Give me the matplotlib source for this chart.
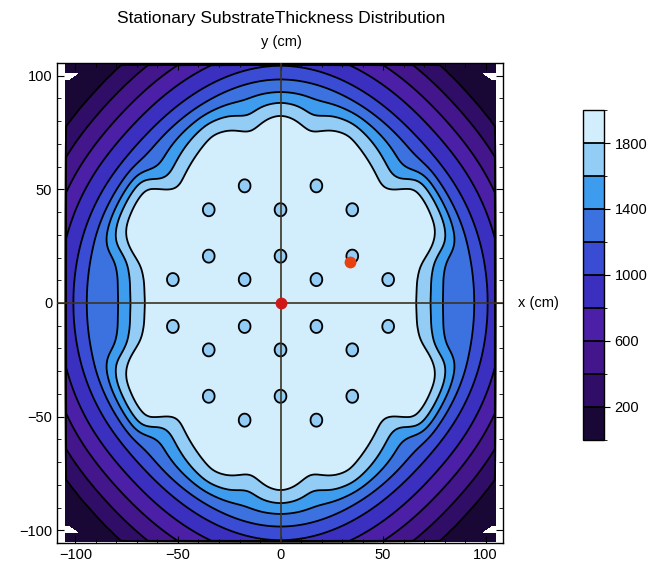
import numpy as np
import matplotlib
matplotlib.use("Agg")
import matplotlib.pyplot as plt
from matplotlib.colors import ListedColormap, BoundaryNorm

plt.rcParams['font.family'] = ['Liberation Sans', 'DejaVu Sans']

# contour levels and band colours, bottom to top
levels = [0, 200, 400, 600, 800, 1000, 1200, 1400, 1600, 1800, 2000]
band_colors = ['#190835', '#300d66', '#43168c', '#4b1fa6', '#3a2fbf',
               '#3a4bd4', '#3c72e0', '#3e9cee', '#93ccf4', '#d2edfc']
cbar_ticks = [200, 600, 1000, 1400, 1800]

# thickness vs radius (cm), read along the diagonal
prof_r = [0, 62, 67, 73, 80, 86, 92, 98, 105.5, 113, 121, 129, 143, 165]
prof_t = [2000, 2000, 1950, 1800, 1600, 1400, 1200, 1000, 800, 600, 400, 200, 60, 0]

# radius of the 1800 contour vs polar angle (first quadrant, mirrored to the others)
edge_ang = [0, 8, 14, 19, 24, 32, 38, 42, 46, 52, 60, 66, 72, 79, 85, 90]
edge_rad = [66, 67, 70, 79, 83, 84, 83, 73, 71, 74, 78, 81, 80, 76, 81, 83]

# outward shift of the outer contours vs polar angle (cm)
outer_ang = [0, 15, 30, 45, 60, 75, 90]
outer_shift = [3, 3, 2, 0, 2, 5, 7]

# holes in the substrate holder (cm)
hole_x = [-17.5, 17.5, -35, 0, 35, -35, 0, 35, -52.5, -17.5, 17.5, 52.5,
          -52.5, -17.5, 17.5, 52.5, -35, 0, 35, -35, 0, 35, -17.5, 17.5]
hole_y = [51.5, 51.5, 41, 41, 41, 20.6, 20.6, 20.6, 10.3, 10.3, 10.3, 10.3,
          -10.3, -10.3, -10.3, -10.3, -20.6, -20.6, -20.6, -41, -41, -41, -51.5, -51.5]
hole_depth = 300
hole_size = 3.0

# marked points: centre and source
mark_x = [0, 34]
mark_y = [0, 18]
mark_colors = ['#d01818', '#e8400f']


def circ_smooth(vals, sigma):
    n = int(3 * sigma)
    k = np.exp(-0.5 * (np.arange(-n, n + 1) / sigma) ** 2)
    k /= k.sum()
    return np.convolve(np.r_[vals[-n:], vals, vals[:n]], k, mode='valid')


# grid
x = np.linspace(-105, 105, 421)
y = np.linspace(-105, 105, 421)
X, Y = np.meshgrid(x, y)
R = np.hypot(X, Y)

# angular shape of the plateau edge and of the outer contours
circ = np.arange(0, 360, 0.5)
fold = np.abs((circ + 90) % 180 - 90)
d = circ_smooth(np.interp(fold, edge_ang, edge_rad) - 73, 4.0)
o = circ_smooth(np.interp(fold, outer_ang, outer_shift), 14.0)
theta = np.degrees(np.arctan2(Y, X)) % 360
delta = np.interp(theta, circ, d, period=360)
outer = np.interp(theta, circ, o, period=360)

# inner waviness fades into the smoother outer shape
t = np.clip((R - 80) / 17, 0, 1)
w = 0.5 * (1 + np.cos(np.pi * t))
T = np.interp(R - delta * w - outer * (1 - w), prof_r, prof_t)
T = np.minimum(T, 1990)
for hx, hy in zip(hole_x, hole_y):
    T -= hole_depth * np.exp(-((X - hx) ** 2 + (Y - hy) ** 2) / (2 * hole_size ** 2))

# zero border like the original export
T[0, :] = 0
T[-1, :] = 0
T[:, 0] = 0
T[:, -1] = 0

# white corner notches
ax_abs = np.abs(X)
ay_abs = np.abs(Y)
notch = (ay_abs > 98) & (ay_abs < 101.5) & (ax_abs > 97.5 + (101.5 - ay_abs) * 1.5)
T = np.ma.masked_where(notch, T)

cmap = ListedColormap(band_colors)
norm = BoundaryNorm(levels, cmap.N)

fig = plt.figure(figsize=(6.51, 5.67), dpi=100)
ax = fig.add_axes([57 / 651, 24 / 567, 446 / 651, 480 / 567])
cf = ax.contourf(X, Y, T, levels=levels, cmap=cmap, norm=norm)
cs = ax.contour(X, Y, T, levels=levels[1:-1], colors='black', linewidths=1.3)

ax.axhline(0, color='#3b3320', lw=1.2, zorder=5)
ax.axvline(0, color='#3b3320', lw=1.2, zorder=5)
for mx, my, mc in zip(mark_x, mark_y, mark_colors):
    ax.plot(mx, my, 'o', color=mc, ms=8.5, mec='none', zorder=6)

ax.set_xlim(-109, 108.5)
ax.set_ylim(-105.5, 105.5)
ax.set_xticks([-100, -50, 0, 50, 100])
ax.set_yticks([-100, -50, 0, 50, 100])
ax.set_xticks(np.arange(-100, 101, 10), minor=True)
ax.set_yticks(np.arange(-100, 101, 10), minor=True)
ax.tick_params(which='both', direction='in', top=True, right=True, labelsize=10.5)
ax.tick_params(which='major', length=5)
ax.tick_params(which='minor', length=3)
for sp in ax.spines.values():
    sp.set_linewidth(1.0)

ax.text(116, 0, 'x (cm)', ha='left', va='center', fontsize=10.5, clip_on=False)
fig.text(281 / 651, 1 - 42 / 567, 'y (cm)', ha='center', va='center', fontsize=10.5)
fig.text(281 / 651, 1 - 18 / 567, 'Stationary SubstrateThickness Distribution',
         ha='center', va='center', fontsize=12.5)

cax = fig.add_axes([583 / 651, 127 / 567, 21 / 651, 330 / 567])
cbar = fig.colorbar(cf, cax=cax, ticks=cbar_ticks)
cbar.add_lines(cs)
cbar.outline.set_linewidth(1.0)
cax.tick_params(labelsize=10.5, length=4, direction='out')

fig.savefig('out.png', dpi=100)
